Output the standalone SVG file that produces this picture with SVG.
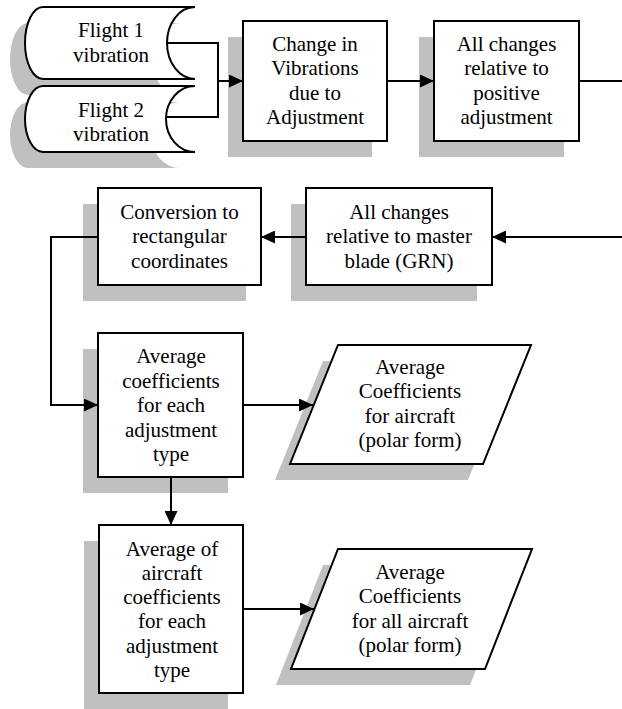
<svg xmlns="http://www.w3.org/2000/svg" width="622" height="709" viewBox="0 0 622 709" font-family="'Liberation Serif', 'DejaVu Serif', serif">
<style>
.sh{fill:#c0c0c0;stroke:none}
.bx{fill:#fff;stroke:#000;stroke-width:2}
.t{font-family:'Liberation Serif','DejaVu Serif',serif;font-size:21px;fill:#000;text-anchor:middle}
.c{fill:none;stroke:#000;stroke-width:2}
</style>
<defs>
<marker id="ah" viewBox="0 0 14 13" refX="14" refY="6.5" markerWidth="14" markerHeight="13" markerUnits="userSpaceOnUse" orient="auto">
<path d="M0,0 L14,6.5 L0,13 Z" fill="#000"/>
</marker>
</defs>
<rect width="622" height="709" fill="#fff"/>

<g id="flight1">
<path class="sh" d="M28,23 L180,23 A28,36 0 0,0 180,95 L28,95 A18,36 0 0,1 28,23 Z"/>
<path class="bx" d="M43,7 L195,7 A28,36 0 0,0 195,79 L43,79 A18,36 0 0,1 43,7 Z"/>
<text class="t" x="111" y="37">Flight 1</text>
<text class="t" x="111" y="61.5">vibration</text>
</g>

<g id="flight2">
<path class="sh" d="M28,102 L180,102 A29,33 0 0,0 180,168 L28,168 A18,33 0 0,1 28,102 Z"/>
<path class="bx" d="M43,86 L195,86 A29,33 0 0,0 195,152 L43,152 A18,33 0 0,1 43,86 Z"/>
<text class="t" x="111" y="116.5">Flight 2</text>
<text class="t" x="111" y="140.5">vibration</text>
</g>

<g id="change">
<rect class="sh" x="228" y="37" width="144" height="120"/>
<rect class="bx" x="243" y="21" width="144" height="120"/>
<text class="t" x="315" y="51">Change in</text>
<text class="t" x="315" y="75.4">Vibrations</text>
<text class="t" x="315" y="99.8">due to</text>
<text class="t" x="315" y="124.2">Adjustment</text>
</g>

<g id="positive">
<rect class="sh" x="419" y="37" width="145" height="120"/>
<rect class="bx" x="434" y="21" width="145" height="120"/>
<text class="t" x="506.5" y="51">All changes</text>
<text class="t" x="506.5" y="75.4">relative to</text>
<text class="t" x="506.5" y="99.8">positive</text>
<text class="t" x="506.5" y="124.2">adjustment</text>
</g>

<g id="master">
<rect class="sh" x="291" y="204" width="186" height="97"/>
<rect class="bx" x="306" y="188" width="186" height="97"/>
<text class="t" x="399" y="218.8">All changes</text>
<text class="t" x="399" y="243.2">relative to master</text>
<text class="t" x="399" y="267.6">blade (GRN)</text>
</g>

<g id="conversion">
<rect class="sh" x="83" y="204" width="163" height="97"/>
<rect class="bx" x="98" y="188" width="163" height="97"/>
<text class="t" x="179.5" y="218.8">Conversion to</text>
<text class="t" x="179.5" y="243.2">rectangular</text>
<text class="t" x="179.5" y="267.6">coordinates</text>
</g>

<g id="avgcoef">
<rect class="sh" x="83" y="349" width="145" height="144"/>
<rect class="bx" x="98" y="333" width="145" height="144"/>
<text class="t" x="171" y="363">Average</text>
<text class="t" x="171" y="387.5">coefficients</text>
<text class="t" x="171" y="412">for each</text>
<text class="t" x="171" y="436.5">adjustment</text>
<text class="t" x="171" y="461">type</text>
</g>

<g id="aircraft">
<polygon class="sh" points="323,361 516,361 468,480 275,480"/>
<polygon class="bx" points="338,345 531,345 483,464 290,464"/>
<text class="t" x="410" y="373.5">Average</text>
<text class="t" x="410" y="398">Coefficients</text>
<text class="t" x="410" y="422.5">for aircraft</text>
<text class="t" x="410" y="447">(polar form)</text>
</g>

<g id="avgall">
<rect class="sh" x="84" y="541" width="144" height="168"/>
<rect class="bx" x="99" y="525" width="144" height="168"/>
<text class="t" x="172" y="555.5">Average of</text>
<text class="t" x="172" y="579.8">aircraft</text>
<text class="t" x="172" y="604.1">coefficients</text>
<text class="t" x="172" y="628.4">for each</text>
<text class="t" x="172" y="652.7">adjustment</text>
<text class="t" x="172" y="677">type</text>
</g>

<g id="allaircraft">
<polygon class="sh" points="323,565 517,565 470,685 276,685"/>
<polygon class="bx" points="338,549 532,549 485,669 291,669"/>
<text class="t" x="410" y="579">Average</text>
<text class="t" x="410" y="603.4">Coefficients</text>
<text class="t" x="410" y="627.8">for all aircraft</text>
<text class="t" x="410" y="652.2">(polar form)</text>
</g>

<g id="connectors">
<path class="c" d="M167,43 H218 V117 H166"/>
<path class="c" d="M218,81 H243" marker-end="url(#ah)"/>
<path class="c" d="M387,81 H434" marker-end="url(#ah)"/>
<path class="c" d="M579,81 H622"/>
<path class="c" d="M622,237 H492" marker-end="url(#ah)"/>
<path class="c" d="M306,237 H261" marker-end="url(#ah)"/>
<path class="c" d="M98,237 H51 V405 H98" marker-end="url(#ah)"/>
<path class="c" d="M243,405 H313" marker-end="url(#ah)"/>
<path class="c" d="M171,477 V525" marker-end="url(#ah)"/>
<path class="c" d="M243,609 H314" marker-end="url(#ah)"/>
</g>
</svg>
